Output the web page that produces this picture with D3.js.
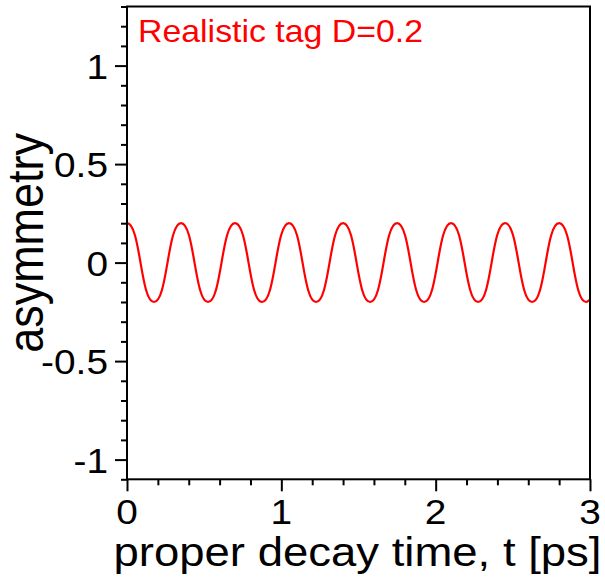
<!DOCTYPE html>
<html>
<head>
<meta charset="utf-8">
<script src="https://cdn.jsdelivr.net/npm/d3@7"></script>
<style>
  html, body { margin: 0; padding: 0; background: #fff; }
  text { font-family: "Liberation Sans", Arial, sans-serif; }
</style>
</head>
<body>
<svg id="chart" width="605" height="577"></svg>
<script>
// Data (peaks and troughs of the curve, plus end value)
const times = [0, 0.175, 0.35, 0.525, 0.70, 0.875, 1.05, 1.225, 1.40, 1.575,
  1.75, 1.925, 2.10, 2.275, 2.45, 2.625, 2.80, 2.975, 3.0];
const asymmetry = [0.2, -0.2, 0.2, -0.2, 0.2, -0.2, 0.2, -0.2, 0.2, -0.2,
  0.2, -0.2, 0.2, -0.2, 0.2, -0.2, 0.2, -0.2, -0.19];
const xMajorTicks = [0, 1, 2, 3];
const xTickLabels = ["0", "1", "2", "3"];
const yMajorTicks = [-1, -0.5, 0, 0.5, 1];
const yTickLabels = ["-1", "-0.5", "0", "0.5", "1"];
const xDomain = [0, 3];
const yDomain = [-1.1, 1.3];
const legendLabel = "Realistic tag D=0.2";
const xTitle = "proper decay time, t [ps]";
const yTitle = "asymmetry";

const W = 605, H = 577;
const margin = { left: 127, top: 6.5, right: 15, bottom: 97.7 };
const innerW = W - margin.left - margin.right;
const innerH = H - margin.top - margin.bottom;
const SX = 1.11; // horizontal stretch of the text in the reference

const svg = d3.select("#chart");
const g = svg.append("g").attr("transform", `translate(${margin.left},${margin.top})`);

const x = d3.scaleLinear().domain(xDomain).range([0, innerW]);
const y = d3.scaleLinear().domain(yDomain).range([innerH, 0]);

// minor ticks
const xMinor = d3.range(0, 3.0001, 0.2).map(v => +v.toFixed(2)).filter(v => !xMajorTicks.some(m => Math.abs(m - v) < 1e-6));
const yMinor = d3.range(-1.1, 1.3001, 0.1).map(v => +v.toFixed(2)).filter(v => !yMajorTicks.some(m => Math.abs(m - v) < 1e-6));

// X axis
const xAxisMajor = d3.axisBottom(x).tickValues(xMajorTicks).tickSize(12).tickFormat(() => "");
const xAxisMinor = d3.axisBottom(x).tickValues(xMinor).tickSize(6).tickFormat(() => "");
[xAxisMajor, xAxisMinor].forEach(ax => {
  const a = g.append("g").attr("transform", `translate(0,${innerH})`).call(ax);
  a.select(".domain").remove();
  a.selectAll("line").attr("stroke", "#000").attr("stroke-width", 2);
});
// Y axis
const yAxisMajor = d3.axisLeft(y).tickValues(yMajorTicks).tickSize(12).tickFormat(() => "");
const yAxisMinor = d3.axisLeft(y).tickValues(yMinor).tickSize(6).tickFormat(() => "");
[yAxisMajor, yAxisMinor].forEach(ax => {
  const a = g.append("g").call(ax);
  a.select(".domain").remove();
  a.selectAll("line").attr("stroke", "#000").attr("stroke-width", 2);
});

// tick labels
g.selectAll(".xlab").data(xMajorTicks).enter().append("text")
  .attr("transform", (d) => `translate(${x(d)},${innerH + 45}) scale(${SX},1)`)
  .attr("text-anchor", "middle")
  .attr("font-size", 35)
  .text((d, i) => xTickLabels[i]);
g.selectAll(".ylab").data(yMajorTicks).enter().append("text")
  .attr("transform", (d) => `translate(-19,${y(d) + 13}) scale(${SX},1)`)
  .attr("text-anchor", "end")
  .attr("font-size", 35)
  .text((d, i) => yTickLabels[i]);

// curve (horizontal tangents at each extremum)
const line = d3.line().x((d, i) => x(times[i])).y(d => y(d)).curve(d3.curveBumpX);
g.append("path")
  .datum(asymmetry)
  .attr("d", line)
  .attr("fill", "none")
  .attr("stroke", "#ff0000")
  .attr("stroke-width", 2.2);

// frame
g.append("rect")
  .attr("x", 0).attr("y", 0).attr("width", innerW).attr("height", innerH)
  .attr("fill", "none").attr("stroke", "#000").attr("stroke-width", 2);

// legend
svg.append("text")
  .attr("transform", `translate(138,41.5) scale(${SX},1)`)
  .attr("font-size", 30.5)
  .attr("fill", "#ff0000")
  .text(legendLabel);

// axis titles
svg.append("text")
  .attr("transform", `translate(${margin.left + innerW / 2 - 1},566) scale(${SX},1)`)
  .attr("text-anchor", "middle")
  .attr("font-size", 41)
  .text(xTitle);
svg.append("text")
  .attr("transform", `translate(43,${margin.top + innerH / 2}) scale(${SX},1) rotate(-90)`)
  .attr("text-anchor", "middle")
  .attr("font-size", 45)
  .text(yTitle);
</script>
</body>
</html>
